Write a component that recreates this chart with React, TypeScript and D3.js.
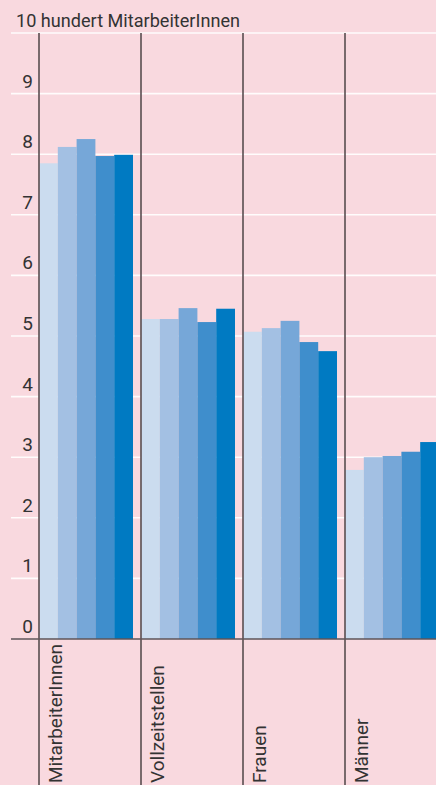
import React from "react";
import * as d3 from "d3";

const categories = ["MitarbeiterInnen", "Vollzeitstellen", "Frauen", "Männer"];
const series1 = [7.85, 5.28, 5.07, 2.79];
const series2 = [8.12, 5.28, 5.13, 3.0];
const series3 = [8.25, 5.46, 5.25, 3.02];
const series4 = [7.97, 5.23, 4.9, 3.09];
const series5 = [7.99, 5.45, 4.75, 3.25];
const seriesList = [series1, series2, series3, series4, series5];
const seriesColors = ["#cbdcef", "#a3c0e3", "#76a7d8", "#3f8ecc", "#007ac2"];
const yTicks = [0, 1, 2, 3, 4, 5, 6, 7, 8, 9, 10];
const unitLabel = "hundert MitarbeiterInnen";

const W = 436;
const H = 785;
const font = "Roboto, sans-serif";

const App = () => {
  const y = d3.scaleLinear().domain([0, 10]).range([639, 33]);
  const x = d3.scaleBand().domain(categories).range([39, 39 + 102 * categories.length]);
  const inner = d3
    .scaleBand()
    .domain(seriesList.map((_, i) => String(i)))
    .range([0, 94]);

  return (
    <svg width={W} height={H} style={{ position: "absolute", left: 0, top: 0, display: "block" }}>
      <rect width={W} height={H} fill="#f9d9df" />

      {/* gridlines */}
      {yTicks.slice(1).map((t) => (
        <line key={t} x1={11} x2={W} y1={y(t)} y2={y(t)} stroke="#fff" strokeOpacity={0.9} strokeWidth={1.6} />
      ))}

      {/* bars */}
      {categories.map((c, ci) => (
        <g key={c} transform={`translate(${x(c)} 0)`}>
          {seriesList.map((s, si) => (
            <rect
              key={si}
              x={inner(String(si))}
              y={y(s[ci])}
              width={inner.bandwidth()}
              height={y(0) - y(s[ci])}
              fill={seriesColors[si]}
            />
          ))}
        </g>
      ))}

      {/* tick labels */}
      {yTicks.slice(0, -1).map((t) => (
        <text key={t} x={33} y={y(t) - 6} textAnchor="end" fontFamily={font} fontSize={19} fill="#333">
          {t}
        </text>
      ))}
      <text x={16} y={y(10) - 6} fontFamily={font} fontSize={19} fill="#333" textLength={224} lengthAdjust="spacingAndGlyphs">
        {`10 ${unitLabel}`}
      </text>

      {/* zero axis */}
      <line x1={11} x2={W} y1={y(0)} y2={y(0)} stroke="#5e5458" strokeWidth={1.5} />

      {/* category separators and labels */}
      {categories.map((c) => (
        <g key={c}>
          <line x1={x(c)} x2={x(c)} y1={y(10)} y2={H} stroke="#635659" strokeWidth={1.7} />
          <text
            transform={`translate(${(x(c) as number) + 23} 783) rotate(-90)`}
            fontFamily={font}
            fontSize={19}
            fill="#333"
          >
            {c}
          </text>
        </g>
      ))}
    </svg>
  );
};

export default App;
